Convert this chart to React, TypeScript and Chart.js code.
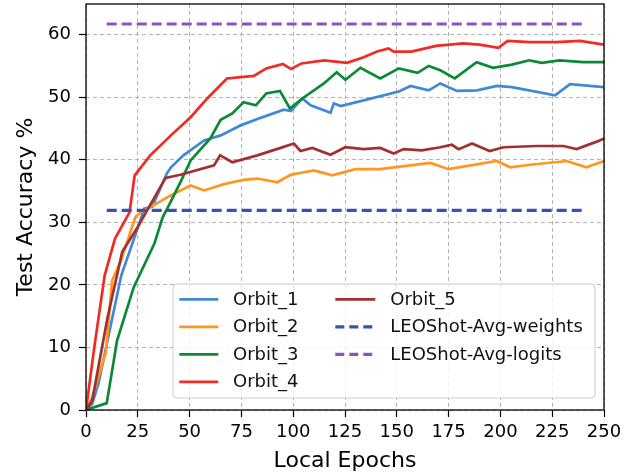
import { useEffect, useRef } from 'react';
import { Chart, registerables } from 'chart.js';

Chart.register(...registerables);

const FONT = "'DejaVu Sans', 'Liberation Sans', sans-serif";

// ---- data ----
const orbit1X = [0, 3, 6, 17, 25.7, 28, 32, 39, 41, 47, 57, 65, 74.7, 84.3, 95.5, 98.8, 104.4, 108.4, 114.8, 118, 119.6, 123, 134, 151, 156.6, 165.4, 171, 179, 188.7, 198.3, 205.5, 226.4, 233.6, 250];
const orbit1Y = [0, 1, 4.2, 21.5, 29.8, 32.2, 32.5, 37.8, 38.8, 40.7, 43.1, 43.9, 45.5, 46.7, 48, 47.8, 49.8, 48.7, 47.9, 47.5, 49, 48.6, 49.5, 50.9, 51.8, 51.1, 52.2, 51, 51.1, 51.8, 51.6, 50.3, 52.1, 51.6];

const orbit2X = [0, 3, 9.6, 12.6, 16.9, 23.8, 26.3, 29.7, 40.9, 50.5, 57, 66.6, 76.2, 82.7, 92.3, 98.8, 110, 118.8, 130, 142, 166.2, 175, 198.3, 204.7, 214.4, 232, 241.5, 250];
const orbit2Y = [0, 2, 9.2, 20.7, 23.9, 30.8, 31.6, 32.2, 34.3, 35.9, 35.1, 36.1, 36.8, 37, 36.4, 37.6, 38.3, 37.5, 38.5, 38.5, 39.5, 38.5, 39.8, 38.8, 39.2, 39.8, 38.8, 39.8];

const orbit3X = [0, 10, 15, 23, 33, 37, 40, 46, 50.5, 60, 65, 70.6, 76, 82, 87, 93.6, 98.4, 104.4, 114.8, 121, 125.2, 132.5, 142, 151, 160, 165.4, 171, 178, 188.5, 196.5, 205.5, 214, 220, 228.5, 240, 250];
const orbit3Y = [0, 1.1, 11.1, 19.6, 26.6, 30.8, 32.7, 36.7, 39.9, 43.4, 46.4, 47.4, 49.2, 48.7, 50.6, 51, 48.2, 49.8, 52.2, 54, 52.8, 54.7, 53, 54.6, 53.9, 55, 54.3, 53, 55.6, 54.7, 55.2, 55.9, 55.5, 55.9, 55.6, 55.6];

const orbit4X = [0, 4, 9, 14, 21, 23.5, 31, 41, 50.5, 58.5, 68, 81, 87, 95, 99, 104, 115, 126, 134, 140.5, 146, 148.5, 157, 169, 182, 190, 199, 203.5, 214, 227, 238.5, 250];
const orbit4Y = [0, 10, 21.5, 27.4, 31.6, 37.5, 40.7, 43.9, 46.8, 49.8, 53, 53.4, 54.6, 55.3, 54.5, 55.4, 55.9, 55.5, 56.4, 57.3, 57.8, 57.3, 57.3, 58.2, 58.6, 58.4, 57.9, 59, 58.8, 58.8, 59, 58.4];

const orbit5X = [0, 3, 10.4, 17.5, 24.9, 29.5, 38.4, 45.6, 61.8, 64.7, 70.6, 82.7, 93.9, 100.3, 103.5, 109.2, 118, 125.2, 134, 142, 148.5, 153.3, 162.1, 171, 176.6, 179.8, 186.3, 194.8, 201.5, 217.6, 230.4, 236.8, 246.5, 250];
const orbit5Y = [0, 1.5, 14.8, 25.3, 29.2, 31.9, 37.1, 37.6, 39.1, 40.7, 39.6, 40.7, 41.9, 42.6, 41.4, 41.9, 40.8, 42, 41.7, 41.9, 41, 41.7, 41.5, 42, 42.4, 41.7, 42.6, 41.4, 42, 42.2, 42.2, 41.7, 42.9, 43.4];

const weightsX = [10, 240];
const weightsY = [31.9, 31.9];
const logitsX = [10, 240];
const logitsY = [61.7, 61.7];

const seriesLabels = ['Orbit_1', 'Orbit_2', 'Orbit_3', 'Orbit_4', 'Orbit_5', 'LEOShot-Avg-weights', 'LEOShot-Avg-logits'];
const seriesColors = ['#4189d6', '#ff9620', '#0b8a35', '#ef2b24', '#a3302e', '#3553b5', '#8c52bd'];
const seriesDashed = [false, false, false, false, false, true, true];
const seriesX = [orbit1X, orbit2X, orbit3X, orbit4X, orbit5X, weightsX, logitsX];
const seriesY = [orbit1Y, orbit2Y, orbit3Y, orbit4Y, orbit5Y, weightsY, logitsY];

const xTitle = 'Local Epochs';
const yTitle = 'Test Accuracy %';

const DASH = [10, 5];

const bgPlugin = {
  id: 'bg',
  beforeDraw(chart: any) {
    const ctx = chart.ctx;
    ctx.save();
    ctx.fillStyle = '#ffffff';
    ctx.fillRect(0, 0, chart.width, chart.height);
    ctx.restore();
  },
};

const framePlugin = {
  id: 'frame',
  afterDatasetsDraw(chart: any) {
    const { left, right, top, bottom } = chart.chartArea;
    const ctx = chart.ctx;
    ctx.save();
    ctx.strokeStyle = '#000';
    ctx.lineWidth = 1.3;
    ctx.setLineDash([]);
    ctx.strokeRect(left, top, right - left, bottom - top);
    ctx.restore();
  },
};

const legendPlugin = {
  id: 'insideLegend',
  afterDraw(chart: any) {
    const ctx = chart.ctx;
    const { left, right, bottom } = chart.chartArea;
    const bx = left + 87;
    const by = bottom - 126;
    const bw = right - 9 - bx;
    const bh = 114;
    const r = 4;
    ctx.save();
    ctx.beginPath();
    ctx.moveTo(bx + r, by);
    ctx.lineTo(bx + bw - r, by);
    ctx.quadraticCurveTo(bx + bw, by, bx + bw, by + r);
    ctx.lineTo(bx + bw, by + bh - r);
    ctx.quadraticCurveTo(bx + bw, by + bh, bx + bw - r, by + bh);
    ctx.lineTo(bx + r, by + bh);
    ctx.quadraticCurveTo(bx, by + bh, bx, by + bh - r);
    ctx.lineTo(bx, by + r);
    ctx.quadraticCurveTo(bx, by, bx + r, by);
    ctx.closePath();
    ctx.fillStyle = 'rgba(255,255,255,0.8)';
    ctx.fill();
    ctx.strokeStyle = '#cccccc';
    ctx.lineWidth = 1;
    ctx.stroke();

    const cols = [
      { items: [0, 1, 2, 3], hx: 6.3, hw: 39, tx: 60 },
      { items: [4, 5, 6], hx: 162.3, hw: 40, tx: 217.3 },
    ];
    ctx.font = `18px ${FONT}`;
    ctx.textBaseline = 'middle';
    ctx.textAlign = 'left';
    cols.forEach((col) => {
      col.items.forEach((idx, row) => {
        const ds = chart.data.datasets[idx];
        const cy = by + 15.3 + row * 27.5;
        ctx.beginPath();
        ctx.strokeStyle = ds.borderColor;
        ctx.lineWidth = ds.borderWidth;
        ctx.setLineDash(seriesDashed[idx] ? [9, 5] : []);
        ctx.moveTo(bx + col.hx, cy);
        ctx.lineTo(bx + col.hx + col.hw, cy);
        ctx.stroke();
        ctx.setLineDash([]);
        ctx.fillStyle = '#111';
        ctx.fillText(ds.label, bx + col.tx, cy + 1);
      });
    });
    ctx.restore();
  },
};

export default function App() {
  const ref = useRef<HTMLCanvasElement>(null);

  useEffect(() => {
    document.body.style.margin = '0';
    const datasets = seriesLabels.map((label, i) => ({
      label,
      data: seriesX[i].map((x, j) => ({ x, y: seriesY[i][j] })),
      borderColor: seriesColors[i],
      backgroundColor: seriesColors[i],
      borderWidth: seriesDashed[i] ? 3.2 : 2.7,
      borderDash: seriesDashed[i] ? DASH : [],
      pointRadius: 0,
      fill: false,
      tension: 0,
      order: seriesLabels.length - i,
    }));

    const tickFont = { family: FONT, size: 18 };
    const titleFont = { family: FONT, size: 22 };

    const chart = new Chart(ref.current as HTMLCanvasElement, {
      type: 'line',
      data: { datasets: datasets as any },
      options: {
        animation: false,
        responsive: false,
        devicePixelRatio: 1,
        layout: { padding: { left: 0, right: 30, top: 4, bottom: 0 } },
        plugins: {
          legend: { display: false },
          tooltip: { enabled: false },
        },
        scales: {
          x: {
            type: 'linear',
            min: 0,
            max: 250,
            ticks: {
              stepSize: 25,
              font: tickFont,
              color: '#000',
              padding: 5,
              maxRotation: 0,
              autoSkip: false,
              includeBounds: false,
            },
            grid: {
              color: '#b3b3b3',
              lineWidth: 1,
              tickColor: '#000',
              tickLength: 7,
              tickWidth: 1.2,
              tickBorderDash: [],
            },
            border: { display: false, dash: [4, 3] },
            title: {
              display: true,
              text: xTitle,
              font: titleFont,
              color: '#000',
              padding: { top: 0, bottom: -1 },
            },
            afterFit(s: any) {
              s.height = 63;
              s.paddingLeft = 0;
              s.paddingRight = 0;
            },
          },
          y: {
            type: 'linear',
            min: 0,
            max: 64.9,
            ticks: {
              stepSize: 10,
              font: tickFont,
              color: '#000',
              padding: 8,
              includeBounds: false,
            },
            grid: {
              color: '#b3b3b3',
              lineWidth: 1,
              tickColor: '#000',
              tickLength: 7,
              tickWidth: 1.2,
              tickBorderDash: [],
            },
            border: { display: false, dash: [4, 3] },
            title: {
              display: true,
              text: yTitle,
              font: titleFont,
              color: '#000',
              padding: { top: 13, bottom: 0 },
            },
            afterFit(s: any) {
              s.width = 86;
              s.paddingTop = 0;
              s.paddingBottom = 0;
            },
          },
        },
      } as any,
      plugins: [bgPlugin, framePlugin, legendPlugin],
    });
    return () => chart.destroy();
  }, []);

  return (
    <div style={{ position: 'absolute', left: 0, top: 0, width: 634, height: 473, background: '#fff' }}>
      <canvas ref={ref} width={634} height={473} style={{ display: 'block', width: 634, height: 473 }} />
    </div>
  );
}
